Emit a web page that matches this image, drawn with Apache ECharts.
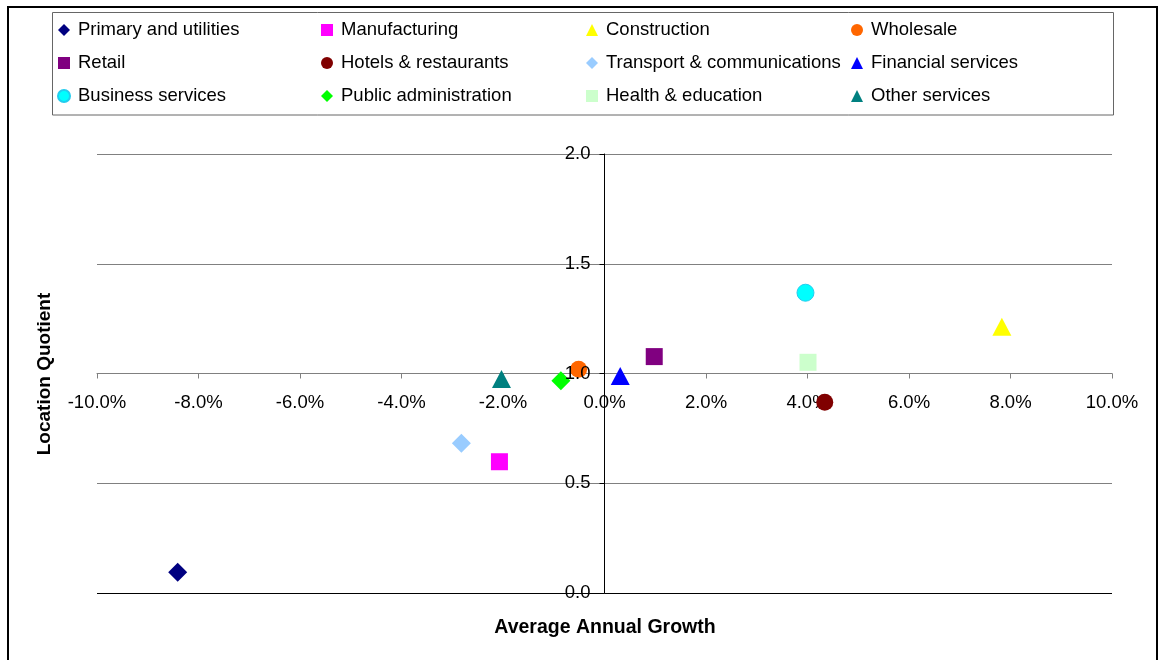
<!DOCTYPE html>
<html>
<head>
<meta charset="utf-8">
<script src="https://cdn.jsdelivr.net/npm/echarts@6/dist/echarts.min.js"></script>
<style>
html,body{margin:0;padding:0;background:#fff;}
#chart{width:1162px;height:660px;}
</style>
</head>
<body>
<div id="chart"></div>
<script>
// ---- Data ----
const sectors = ['Primary and utilities','Manufacturing','Construction','Wholesale','Retail','Hotels & restaurants','Transport & communications','Financial services','Business services','Public administration','Health & education','Other services'];
const growth = [-8.41, -2.07, 7.83, -0.51, 0.98, 4.34, -2.82, 0.31, 3.96, -0.86, 4.01, -2.03];
const locationQuotient = [0.094, 0.598, 1.213, 1.019, 1.077, 0.869, 0.682, 0.989, 1.368, 0.967, 1.051, 0.975];
const xTicks = [-10, -8, -6, -4, -2, 0, 2, 4, 6, 8, 10];
const yTicks = [0, 0.5, 1.0, 1.5, 2.0];
const legendColumns = [
  ['Primary and utilities','Retail','Business services'],
  ['Manufacturing','Hotels & restaurants','Public administration'],
  ['Construction','Transport & communications','Health & education'],
  ['Wholesale','Financial services','Other services']
];

// ---- Styles ----
const colors = ['#000080','#FF00FF','#FFFF00','#FF6600','#800080','#800000','#99CCFF','#0000FF','#00FFFF','#00FF00','#CCFFCC','#008080'];
const symbols = ['diamond','rect','triangle','circle','rect','circle','diamond','triangle','circle','diamond','rect','triangle'];
const symbolSizes = {diamond:[19,19], rect:[17,17], circle:[17,17], triangle:[19,18]};
const FONT = '"Liberation Sans", Arial, Helvetica, sans-serif';

const chart = echarts.init(document.getElementById('chart'), null, {renderer:'canvas'});

const series = sectors.map((name, i) => ({
  name: name,
  type: 'scatter',
  xAxisIndex: 0,
  yAxisIndex: 0,
  symbol: symbols[i],
  symbolSize: symbolSizes[symbols[i]],
  itemStyle: {color: colors[i], opacity: 1, borderColor: name === 'Business services' ? '#22CCEE' : colors[i], borderWidth: name === 'Business services' ? 1 : 0},
  emphasis: {disabled: true},
  data: [[growth[i], locationQuotient[i]]]
}));

const legendLefts = [57, 321, 586, 851];
const legends = legendColumns.map((col, c) => ({
  data: col,
  orient: 'vertical',
  left: legendLefts[c],
  top: 19,
  padding: 0,
  itemGap: 11,
  itemWidth: 12,
  itemHeight: 12,
  selectedMode: false,
  textStyle: {fontFamily: FONT, fontSize: 18.5, color: '#000', lineHeight: 22, padding: [0,0,0,3]}
}));

const xMin = xTicks[0], xMax = xTicks[xTicks.length-1];
const zeroX = 97 + (0 - xMin) / (xMax - xMin) * (1162 - 50 - 97);

const option = {
  backgroundColor: '#fff',
  animation: false,
  legend: legends,
  grid: [
    {left: 97, right: 50, top: 154, bottom: 67, containLabel: false},
    {left: 97, right: 50, top: 154, bottom: 660 - 373.5, containLabel: false},
    {left: zeroX, right: 50, top: 154, bottom: 67, containLabel: false}
  ],
  xAxis: [
    {
      gridIndex: 0, type: 'value', min: xMin, max: xMax, interval: 2,
      axisLine: {show: false}, axisTick: {show: false}, axisLabel: {show: false}, splitLine: {show: false}
    },
    {
      gridIndex: 1, type: 'value', min: xMin, max: xMax, interval: 2,
      axisLine: {show: true, onZero: false, lineStyle: {color: '#808080', width: 1}},
      axisTick: {show: true, inside: false, length: 5, lineStyle: {color: '#808080'}},
      axisLabel: {show: true, margin: 20, fontFamily: FONT, fontSize: 18.5, color: '#000',
        formatter: v => v.toFixed(1) + '%'},
      splitLine: {show: false}
    },
    {
      gridIndex: 2, type: 'value', min: 0, max: 1, show: false
    }
  ],
  yAxis: [
    {
      gridIndex: 0, type: 'value', min: yTicks[0], max: yTicks[yTicks.length-1], interval: 0.5,
      axisLine: {show: false}, axisTick: {show: false}, axisLabel: {show: false},
      splitLine: {show: true, lineStyle: {color: ['#000000','#808080','#808080','#808080','#808080'], width: 1}}
    },
    {
      gridIndex: 1, type: 'value', min: 0, max: 1, show: false
    },
    {
      gridIndex: 2, type: 'value', position: 'left', min: yTicks[0], max: yTicks[yTicks.length-1], interval: 0.5,
      z: 3,
      axisLine: {show: true, onZero: false, lineStyle: {color: '#000', width: 1}},
      axisTick: {show: true, inside: false, length: 5, lineStyle: {color: '#000'}},
      axisLabel: {show: true, margin: 14, fontFamily: FONT, fontSize: 18.5, color: '#000',
        formatter: v => v.toFixed(1)},
      splitLine: {show: false}
    }
  ],
  graphic: [
    {type: 'rect', silent: true, z: -10, shape: {x: 8, y: 7, width: 1149, height: 680},
      style: {fill: 'none', stroke: '#000', lineWidth: 2}},
    {type: 'rect', silent: true, z: -10, shape: {x: 52.5, y: 12.5, width: 1061, height: 102.5},
      style: {fill: 'none', stroke: '#666', lineWidth: 1}},
    {type: 'text', silent: true, x: 45, y: 374, rotation: Math.PI / 2,
      style: {text: 'Location Quotient', align: 'center', verticalAlign: 'middle',
        font: 'bold 19px ' + FONT, fill: '#000'}},
    {type: 'text', silent: true, x: 605, y: 628,
      style: {text: 'Average Annual Growth', align: 'center', verticalAlign: 'middle',
        font: 'bold 19.5px ' + FONT, fill: '#000'}}
  ],
  series: series
};

chart.setOption(option);
</script>
</body>
</html>
